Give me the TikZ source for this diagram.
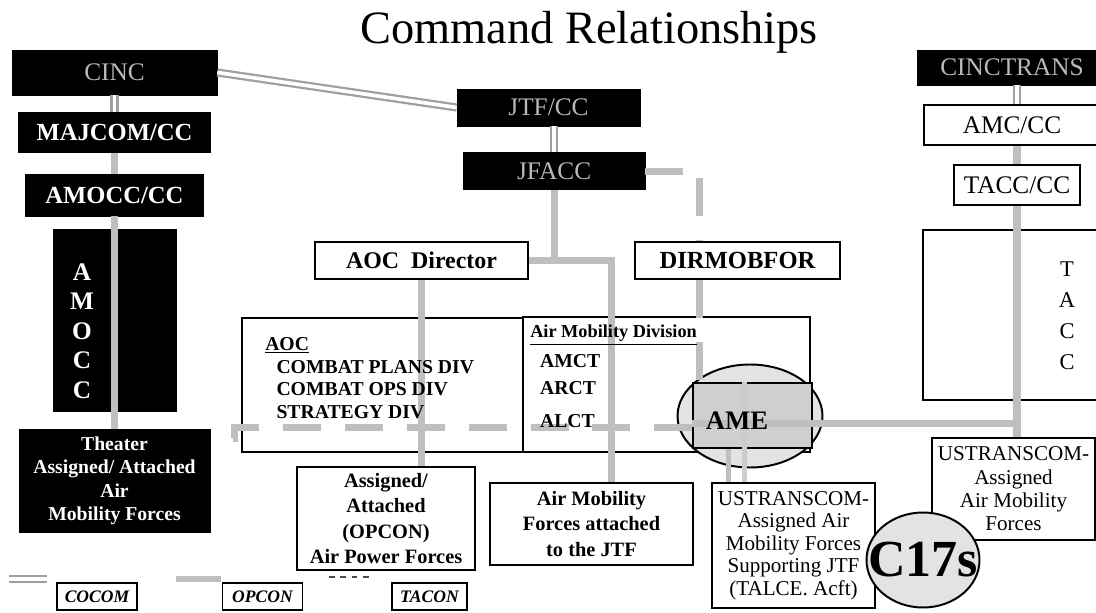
\documentclass[tikz,border=0pt]{standalone}
\usepackage{fontspec}
\setmainfont{Liberation Serif}
\usetikzlibrary{positioning,calc,shapes.geometric}

\newcommand{\fsz}[2]{\fontsize{#1}{#2}\selectfont}

\begin{document}
\begin{tikzpicture}[
  x=0.25mm, y=-0.25mm,
  every node/.style={align=center, inner sep=0pt},
  blk/.style  ={rectangle, draw=black, fill=black, text=white,
                font=\bfseries\fsz{17.5}{20}},
  hq/.style   ={blk, text=gray!55, font=\fsz{18}{20}},
  wbox/.style ={rectangle, draw=black, line width=1.4pt, fill=white,
                font=\bfseries\fsz{14.5}{18}},
  rbox/.style ={wbox, font=\fsz{15}{16.5}},
  frame/.style={rectangle, draw=black, line width=1.4pt},
  lgd/.style  ={rectangle, draw=black, line width=1.2pt, fill=white,
                font=\bfseries\itshape\fsz{12.5}{14},
                minimum width=20mm, minimum height=6.75mm},
  opcon/.style={draw=gray!50, line width=5pt},
  cocom/.style={draw=gray!75, line width=1.6pt, double=white, double distance=2.6pt},
  tacon/.style={draw=gray!50, line width=5pt, dash pattern=on 27pt off 17pt},
]
\useasboundingbox (0,0) rectangle (1096,613);
\clip (0,0) rectangle (1096,613);

% -------- left column (theater) -------------------------------------------
\node[hq, minimum width=51.25mm, minimum height=11.25mm] (cinc) at (114.5,72.5) {CINC};
\node[blk, minimum width=48mm,   minimum height=10mm,   below=4.25mm of cinc]   (majcom) {MAJCOM/CC};
\node[blk, minimum width=44.5mm, minimum height=10.5mm, below=5.25mm of majcom] (amoccc) {AMOCC/CC};
\node[blk, minimum width=30.75mm, minimum height=45.5mm, below=3.25mm of amoccc] (amocc) {};
\node[blk, minimum width=47.75mm, minimum height=25.75mm, below=4.25mm of amocc,
      font=\bfseries\fsz{14}{16.5}] (theater) {Theater\\Assigned/ Attached\\Air\\Mobility Forces};

% -------- centre column (JTF) ---------------------------------------------
\node[hq, minimum width=45.75mm, minimum height=9.25mm] (jtfcc) at (548.5,107.5) {JTF/CC};
\node[hq, minimum width=45.5mm, minimum height=9.25mm, below=6.5mm of jtfcc, xshift=1.4mm] (jfacc) {JFACC};
\node[wbox, font=\bfseries\fsz{17}{20}, minimum width=53.25mm, minimum height=9.25mm]
     (aocdir) at (421.5,260.5) {AOC\ \ Director};
\node[wbox, font=\bfseries\fsz{17.5}{20}, minimum width=51.25mm, minimum height=9.25mm]
     (dirmob) at (737.5,260.5) {DIRMOBFOR};

% AOC and air mobility division
\node[frame, minimum width=70.25mm, minimum height=33.5mm]  (aoc) at (382.5,385) {};
\node[frame, minimum width=71.75mm, minimum height=33.75mm] (amd) at (666.5,384.5) {};
\node[ellipse, draw=black, line width=1.4pt, fill=gray!22,
      minimum width=36.25mm, minimum height=25.75mm] (ame) at (750,416) {};
\node[rectangle, draw=black, line width=1pt, fill=gray!38,
      minimum width=29.75mm, minimum height=16.25mm] (amebox) at (752.5,415.5) {};

% forces row
\node[wbox, minimum width=44.5mm, minimum height=25.75mm] (assigned) at (386,518.5)
     {Assigned/\\Attached\\(OPCON)\\Air Power Forces};
\node[wbox, minimum width=50.75mm, minimum height=20.5mm] (amfjtf) at (591.5,524)
     {Air Mobility\\Forces attached\\to the JTF};
\node[rbox, font=\fsz{15}{16}, minimum width=40.75mm, minimum height=31.25mm] (ustrjtf) at (793.5,545.5)
     {USTRANSCOM-\\Assigned Air\\Mobility Forces\\Supporting JTF\\(TALCE. Acft)};

% -------- right column (TRANSCOM) -----------------------------------------
\node[hq, minimum width=47.5mm, minimum height=8.75mm] (cinctrans) at (1012,67.5) {CINCTRANS};
\node[wbox, font=\fsz{18}{20}, minimum width=44mm, minimum height=10mm] (amccc) at (1012,125) {AMC/CC};
\node[wbox, font=\fsz{18}{20}, minimum width=31.5mm, minimum height=10mm] (taccc) at (1017,185) {TACC/CC};
\node[frame, minimum width=47mm, minimum height=42.5mm] (tacc) at (1017,315) {};
\node[rbox, font=\fsz{15}{16.6}, minimum width=40.75mm, minimum height=25.5mm] (ustrr) at (1013.5,489)
     {USTRANSCOM-\\Assigned\\Air Mobility\\Forces};

% -------- COCOM -----------------------------------------------------------
\draw[cocom] (cinc.east) -- (jtfcc.west);
\draw[cocom] (majcom.north |- cinc.south) -- (majcom.north);
\draw[cocom] (jfacc.north |- jtfcc.south) -- (jfacc.north);
\draw[cocom] (taccc.north |- cinctrans.south) -- (taccc.north |- amccc.north);

% -------- OPCON -----------------------------------------------------------
\draw[opcon] (majcom.south) -- (amoccc.north);
\draw[opcon] (amoccc.south) -- (theater.north);
\coordinate (jct) at (jfacc.south |- aocdir.east);
\draw[opcon] (jfacc.south) -- (jct) -- (aocdir.east);
\coordinate (amfIn) at ([xshift=4.9mm]amfjtf.north);
\draw[opcon] (jct) -| (amfIn);
\draw[opcon] (aocdir.south) -- (aocdir.south |- assigned.north);
\coordinate (ameL) at ([yshift=-2mm]amebox.west);
\draw[opcon] (ameL) -- (ameL -| taccc.south);
\draw[opcon] (taccc.north |- amccc.south) -- (taccc.north);
\draw[opcon] (taccc.south) -- (taccc.south |- ustrr.north);
\coordinate (ameD1) at ([xshift=-6.1mm]amebox.south);
\coordinate (ameD2) at ([xshift=-1.9mm]amebox.south);
\draw[opcon, line width=3.5pt] (ameD1) -- (ameD1 |- ustrjtf.north);
\draw[opcon, line width=3.5pt, draw=gray!40] (ameD2 |- amebox.north) -- (ameD2 |- ustrjtf.north);

% -------- TACON -----------------------------------------------------------
\coordinate (dmIn) at ([xshift=-9.4mm]dirmob.north);
\draw[tacon] (jfacc.east) -| (dmIn);
\coordinate (dmOut) at ([xshift=-9.4mm]dirmob.south);
\draw[tacon] (dmOut) -- (dmOut |- amebox.north);
\coordinate (tac) at ([yshift=-3mm]amebox.west);
\draw[tacon] (tac) -| ([xshift=6mm,yshift=-2.5mm]theater.north east)
             -- ([yshift=-2.5mm]theater.north east);

% -------- texts over the lines --------------------------------------------
\node[font=\bfseries\fsz{18}{21}, text=white] (amoccT) at (82,331) {A\\M\\O\\C\\C};
\node[font=\fsz{16}{22}] (taccT) at (1067,316) {T\\A\\C\\C};
\node[font=\bfseries\fsz{14}{16.2}, align=left, anchor=north west] (aocT) at (265,337)
     {\underline{AOC}\\\hspace*{8pt}COMBAT PLANS DIV\\\hspace*{8pt}COMBAT OPS DIV\\\hspace*{8pt}STRATEGY DIV};
\node[font=\bfseries\fsz{14}{19}, align=left, anchor=north west] (amdT) at (530,325)
     {{\fsz{13}{19}\underline{Air Mobility Division}}\\[2pt]\hspace*{7pt}AMCT\\\hspace*{7pt}ARCT\\[4.5pt]\hspace*{7pt}ALCT};
\node[font=\bfseries\fsz{19}{21}] (ameT) at (737,421) {AME};

\node[ellipse, draw=black, line width=1.4pt, fill=gray!22,
      minimum width=28.25mm, minimum height=23.75mm,
      label={[font=\bfseries\fsz{37}{40}]center:C17s}] (c17) at (923,560) {};

% -------- legend ----------------------------------------------------------
\node[lgd] (lgcocom) at (97,596.5) {COCOM};
\node[lgd] (lgopcon) at (262.5,596.5) {OPCON};
\node[lgd, minimum width=18.75mm] (lgtacon) at (429.5,596.5) {TACON};
\draw[cocom] ([xshift=-11.75mm,yshift=0.75mm]lgcocom.north west) -- ++(9.5mm,0);
\draw[opcon, line width=4pt] ([xshift=-11.5mm,yshift=0.75mm]lgopcon.north west) -- ++(11.25mm,0);
\draw[draw=black!70, line width=1pt, dash pattern=on 4pt off 4pt]
     ([xshift=-15.5mm,yshift=1.25mm]lgtacon.north west) -- ++(10.5mm,0);

% -------- title -----------------------------------------------------------
\node[font=\fsz{33}{37}] (title) at (589,32) {Command Relationships};

\end{tikzpicture}
\end{document}
